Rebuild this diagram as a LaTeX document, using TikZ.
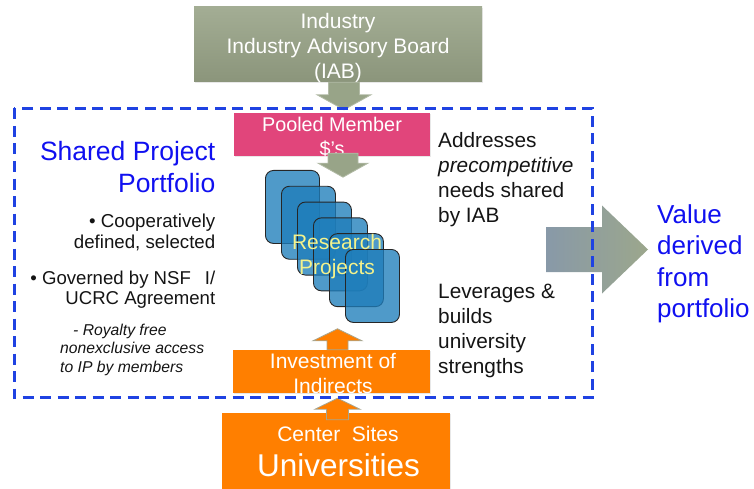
\documentclass[tikz,border=0pt]{standalone}
\usepackage{fontspec}
\setmainfont{Liberation Sans}
\usetikzlibrary{calc,shadows}
\definecolor{iabtop}{HTML}{A3AD94}
\definecolor{iabbot}{HTML}{8B957B}
\definecolor{poolpink}{HTML}{E1457B}
\definecolor{uorange}{HTML}{FF7F00}
\definecolor{dashblue}{HTML}{1F42E2}
\definecolor{txtblue}{HTML}{1010F0}
\definecolor{cardblue}{HTML}{1E7DBA}
\definecolor{rpyellow}{HTML}{F4F28C}
\definecolor{arrgray}{HTML}{98A488}
\definecolor{arrleft}{HTML}{8899A8}
\definecolor{arrright}{HTML}{9CA78C}
\definecolor{txtblack}{HTML}{141414}
\definecolor{arredge}{HTML}{A8A690}
\newcommand\blockarrow[6]{%
  \path let \p1=(#2), \p2=(#3) in
    \pgfextra{%
      \pgfmathsetmacro\baLen{veclen(\x2-\x1,\y2-\y1)}%
      \pgfmathsetmacro\baAng{atan2(\y2-\y1,\x2-\x1)}%
      \global\let\baLen\baLen \global\let\baAng\baAng};
  \begin{scope}[shift={(#2)}, rotate=\baAng]
    \path[#1] (0pt,{#4*0.5pt}) -- ({\baLen pt-#6pt},{#4*0.5pt})
      -- ({\baLen pt-#6pt},{#5*0.5pt}) -- (\baLen pt,0pt)
      -- ({\baLen pt-#6pt},{-#5*0.5pt}) -- ({\baLen pt-#6pt},{-#4*0.5pt})
      -- (0pt,{-#4*0.5pt}) -- cycle;
  \end{scope}}
\tikzset{
  box/.style={rectangle, inner sep=0pt,
    drop shadow={shadow xshift=1.2pt, shadow yshift=-1.2pt, opacity=0.18}},
  card/.style={rectangle, rounded corners=8pt, inner sep=0pt, anchor=north west,
    minimum width=54pt, minimum height=73pt, fill=cardblue, fill opacity=0.78,
    draw=black!85, line width=0.9pt},
  wtxt/.style={inner sep=0pt, text=white, align=center, anchor=north},
  btxt/.style={inner sep=0pt, text=txtblack},
  grayarrow/.style={fill=arrgray, draw=arrgray!75!white, line width=0.8pt},
  orangearrow/.style={fill=uorange, draw=arredge, line width=0.8pt},
  portfolio/.style={draw=dashblue, line width=3pt, dash pattern=on 11pt off 6.5pt}
}
\begin{document}
\begin{tikzpicture}[x=1pt,y=-1pt]
\useasboundingbox (0,0) rectangle (754,489);
% boxes
\node[box, top color=iabtop, bottom color=iabbot, minimum width=288pt, minimum height=75pt] (iab) at (338,44.5) {};
\node[box, fill=poolpink, minimum width=196pt, minimum height=43pt] (pool) at (332,134.5) {};
\node[box, fill=uorange, minimum width=197pt, minimum height=43pt] (invest) at (331.5,371.5) {};
\node[box, fill=uorange, minimum width=228pt, minimum height=84pt] (univ) at (336,455) {};
% box texts
\node[wtxt, font=\fontsize{21}{25}\selectfont] (iabtxt) at (338,13.5) {Industry\\Industry Advisory Board\\(IAB)};
\node[wtxt, font=\fontsize{19.8}{24}\selectfont] (pooltxt) at (332,116.7) {Pooled Member\\\$’s};
\node[wtxt, font=\fontsize{21}{25}\selectfont] (investtxt) at (333,353) {Investment of\\Indirects};
\node[wtxt, font=\fontsize{21}{25}\selectfont] (centertxt) at (338,426.5) {Center\ \ Sites};
\node[wtxt, font=\fontsize{31.5}{36}\selectfont] (univtxt) at (338.5,453) {Universities};
% connectors
\coordinate (a1s) at ($(iab.south)+(6,0)$);
\coordinate (a1e) at ($(pool.north)+(12,-3)$);
\blockarrow{grayarrow}{a1s}{a1e}{31}{54}{15}
\coordinate (a2s) at ($(pool.south)+(11,-3)$);
\coordinate (a2e) at ($(pool.south)+(11,21)$);
\blockarrow{grayarrow}{a2s}{a2e}{30}{50}{14}
% research project cards
\foreach \i in {0,...,5}
  \node[card] (card\i) at ({265+16*\i},{170+15.8*\i}) {};
\node[inner sep=0pt, anchor=north, align=center, text=rpyellow, font=\fontsize{21}{25}\selectfont] (rptxt) at (337,234.5) {Research\\Projects};
\coordinate (a3s) at ($(invest.north)+(6,0)$);
\coordinate (a3e) at ($(invest.north)+(6,-21)$);
\blockarrow{orangearrow}{a3s}{a3e}{21}{49}{12}
\coordinate (a4s) at ($(univ.north)+(1.5,7)$);
\coordinate (a4e) at ($(invest.south)+(6,5)$);
\blockarrow{orangearrow}{a4s}{a4e}{22}{45}{11}
% side texts
\node[inner sep=0pt, anchor=north east, align=right, text=txtblue, font=\fontsize{26.5}{32}\selectfont] (spp) at (215.5,141) {Shared Project\\Portfolio};
\node[btxt, anchor=north east, align=right, font=\fontsize{18.7}{20.5}\selectfont] (coop) at (215.5,214) {• Cooperatively\\defined, selected};
\node[btxt, anchor=north east, align=right, font=\fontsize{18.6}{20}\selectfont] (gov) at (215.5,270.5) {• Governed by NSF\hspace*{14pt}I/\\UCRC Agreement};
\node[btxt, anchor=north west, align=left, font=\fontsize{15.7}{18.5}\selectfont\itshape] (roy) at (60,323.5) {\hspace*{13pt}- Royalty free\\nonexclusive access\\to IP by members};
\node[btxt, anchor=north west, align=left, font=\fontsize{20.8}{25}\selectfont] (addr) at (438,132.5) {Addresses\\\textit{precompetitive}\\needs shared\\by IAB};
\node[btxt, anchor=north west, align=left, font=\fontsize{20.8}{25}\selectfont] (lev) at (438,284) {Leverages \&\\builds\\university\\strengths};
\node[inner sep=0pt, anchor=north west, align=left, text=txtblue, font=\fontsize{26}{31.6}\selectfont] (value) at (657,204) {Value\\derived\\from\\portfolio};
% value arrow
\coordinate (a5s) at (546,249.5);
\coordinate (a5e) at ($(value.north west)+(-9,45.5)$);
\blockarrow{left color=arrleft, right color=arrright}{a5s}{a5e}{45}{88}{46}
% portfolio boundary
\draw[portfolio] (14,108.5) rectangle (592,397.5);
\end{tikzpicture}
\end{document}
